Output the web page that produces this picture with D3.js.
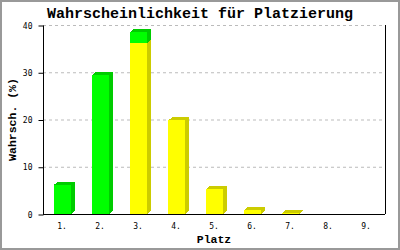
<!DOCTYPE html>
<html>
<head>
<meta charset="utf-8">
<script src="https://cdn.jsdelivr.net/npm/d3@7"></script>
<style>
  body { margin: 0; background: #fff; }
  svg { display: block; }
</style>
</head>
<body>
<svg id="chart" width="400" height="250"></svg>
<script>
// data
const places = ['1.', '2.', '3.', '4.', '5.', '6.', '7.', '8.', '9.'];
const greenValues = [6.2, 29.4, 2.3, 0, 0, 0, 0, 0, 0];
const yellowValues = [0, 0, 36.2, 19.8, 5.3, 0.85, 0.2, 0, 0];
const yTicks = [0, 10, 20, 30, 40];

const W = 400, H = 250;
const margin = { left: 43, right: 15, top: 25, bottom: 36 };
const depthX = 4, depthY = 3;

const svg = d3.select('#chart');

// outer frame
svg.append('rect')
  .attr('x', 1).attr('y', 1)
  .attr('width', W - 2).attr('height', H - 2)
  .attr('fill', '#fff')
  .attr('stroke', '#999')
  .attr('stroke-width', 2);

const x = d3.scaleBand()
  .domain(places)
  .range([margin.left, W - margin.right])
  .padding(0);

const y = d3.scaleLinear()
  .domain([0, 40])
  .range([H - margin.bottom, margin.top]);

// grid lines
svg.append('g')
  .selectAll('line')
  .data(yTicks.filter((t) => t > 0))
  .enter()
  .append('line')
  .attr('x1', margin.left)
  .attr('x2', W - margin.right)
  .attr('y1', (d) => y(d) + 0.5)
  .attr('y2', (d) => y(d) + 0.5)
  .attr('stroke', '#bbb')
  .attr('stroke-dasharray', '3,3');

// stacked segments: yellow at bottom, green on top
const series = places.map((p, i) => {
  const segs = [];
  let base = 0;
  if (yellowValues[i] > 0) {
    segs.push({ p, y0: base, y1: base + yellowValues[i], front: '#ffff00', dark: '#cccc00' });
    base += yellowValues[i];
  }
  if (greenValues[i] > 0) {
    segs.push({ p, y0: base, y1: base + greenValues[i], front: '#00ff00', dark: '#00cc00' });
    base += greenValues[i];
  }
  if (segs.length) segs[segs.length - 1].top = true;
  return segs;
});

const barW = Math.round(x.bandwidth() * 0.45);
const barX = (p) => Math.round(x(p) + (x.bandwidth() - barW) / 2);

const bars = svg.append('g').attr('shape-rendering', 'crispEdges');

series.flat().forEach((s) => {
  const x0 = barX(s.p), x1 = x0 + barW;
  const yt = y(s.y1), yb = y(s.y0);
  bars.append('rect')
    .attr('x', x0).attr('y', yt)
    .attr('width', barW).attr('height', Math.max(0, yb - yt))
    .attr('fill', s.front);
  bars.append('path')
    .attr('d', `M${x1},${yt}L${x1 + depthX},${yt - depthY}L${x1 + depthX},${yb - depthY}L${x1},${yb}Z`)
    .attr('fill', s.dark);
  if (s.top) {
    bars.append('path')
      .attr('d', `M${x0},${yt}L${x0 + depthX},${yt - depthY}L${x1 + depthX},${yt - depthY}L${x1},${yt}Z`)
      .attr('fill', s.dark);
  }
});

// axes
const yAxis = d3.axisLeft(y)
  .tickValues(yTicks)
  .tickSize(5)
  .tickPadding(6);

const gy = svg.append('g')
  .attr('transform', `translate(${margin.left + 0.5},0.5)`)
  .call(yAxis);
gy.select('.domain').attr('stroke', '#000').attr('d', `M0,${y(40)}V${y(0)}`);
gy.selectAll('.tick line').attr('stroke', '#000').attr('x1', -5).attr('x2', 0);
gy.selectAll('.tick text')
  .attr('font-family', 'DejaVu Sans Mono, monospace')
  .attr('font-size', 8)
  .attr('fill', '#000');

const xAxis = d3.axisBottom(x).tickSize(0).tickPadding(9);
const gx = svg.append('g')
  .attr('transform', `translate(0,${y(0) + 0.5})`)
  .call(xAxis);
gx.select('.domain').attr('stroke', '#000').attr('d', `M${margin.left},0H${W - margin.right}`);
gx.selectAll('.tick text')
  .attr('font-family', 'DejaVu Sans Mono, monospace')
  .attr('font-size', 8)
  .attr('fill', '#000');

// right border
svg.append('line')
  .attr('x1', W - margin.right + 0.5).attr('x2', W - margin.right + 0.5)
  .attr('y1', y(40)).attr('y2', y(0))
  .attr('stroke', '#000');

// titles
svg.append('text')
  .attr('x', 200).attr('y', 18)
  .attr('text-anchor', 'middle')
  .attr('font-family', 'Liberation Mono, monospace')
  .attr('font-weight', 'bold')
  .attr('font-size', 15)
  .text('Wahrscheinlichkeit für Platzierung');

svg.append('text')
  .attr('x', (margin.left + W - margin.right) / 2).attr('y', 243)
  .attr('text-anchor', 'middle')
  .attr('font-family', 'Liberation Mono, monospace')
  .attr('font-weight', 'bold')
  .attr('font-size', 11.5)
  .text('Platz');

svg.append('text')
  .attr('transform', `translate(16,${(y(0) + y(40)) / 2}) rotate(-90)`)
  .attr('text-anchor', 'middle')
  .attr('font-family', 'Liberation Mono, monospace')
  .attr('font-weight', 'bold')
  .attr('font-size', 11.5)
  .text('Wahrsch. (%)');
</script>
</body>
</html>
